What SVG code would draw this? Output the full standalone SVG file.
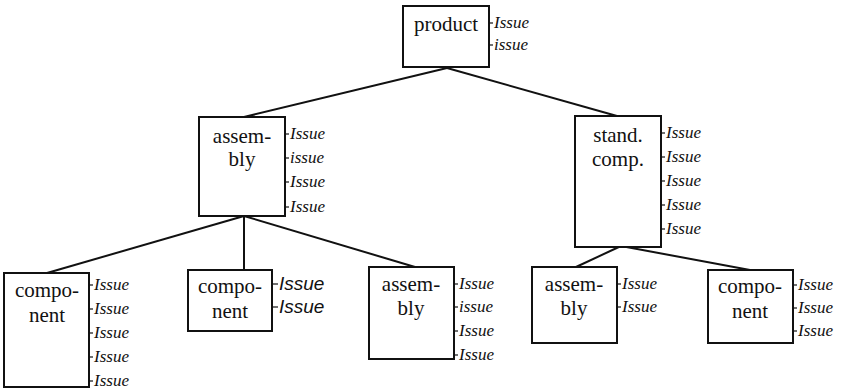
<svg xmlns="http://www.w3.org/2000/svg" width="841" height="392" viewBox="0 0 841 392">
  <style>
    .box { fill: #fff; stroke: #111; stroke-width: 2; }
    .lbl { font-family: "Liberation Serif", "Times New Roman", serif; font-size: 21px; fill: #111; text-anchor: middle; }
    .iss { font-family: "Liberation Serif", "Times New Roman", serif; font-style: italic; font-size: 17px; fill: #111; }
    .isss { font-family: "Liberation Sans", Arial, sans-serif; font-style: italic; font-size: 19px; fill: #111; }
    .tick { stroke: #111; stroke-width: 1.2; }
    .edge { stroke: #111; stroke-width: 2; fill: none; }
  </style>
  <rect width="841" height="392" fill="#fff"/>

  <g id="connectors">
    <line class="edge" x1="447" y1="68" x2="244" y2="117"/>
    <line class="edge" x1="447" y1="68" x2="617" y2="116"/>
    <line class="edge" x1="244" y1="216" x2="47" y2="273"/>
    <line class="edge" x1="244" y1="216" x2="244" y2="270"/>
    <line class="edge" x1="244" y1="216" x2="415" y2="267"/>
    <line class="edge" x1="621" y1="246" x2="576" y2="267"/>
    <line class="edge" x1="621" y1="246" x2="750" y2="270"/>
  </g>

  <g id="product">
    <rect class="box" x="403" y="6" width="86" height="61"/>
    <text class="lbl" x="446" y="31">product</text>
    <line class="tick" x1="489" y1="23" x2="493" y2="23"/>
    <text class="iss" x="494" y="28">Issue</text>
    <line class="tick" x1="489" y1="45" x2="493" y2="45"/>
    <text class="iss" x="494" y="50">issue</text>
  </g>

  <g id="assembly-1">
    <rect class="box" x="199" y="117" width="86" height="99"/>
    <text class="lbl" x="242" y="143">assem-</text>
    <text class="lbl" x="242" y="166">bly</text>
    <line class="tick" x1="285" y1="134" x2="289" y2="134"/>
    <text class="iss" x="290" y="139">Issue</text>
    <line class="tick" x1="285" y1="158" x2="289" y2="158"/>
    <text class="iss" x="290" y="163">issue</text>
    <line class="tick" x1="285" y1="182" x2="289" y2="182"/>
    <text class="iss" x="290" y="187">Issue</text>
    <line class="tick" x1="285" y1="207" x2="289" y2="207"/>
    <text class="iss" x="290" y="212">Issue</text>
  </g>

  <g id="standard-component">
    <rect class="box" x="575" y="116" width="86" height="131"/>
    <text class="lbl" x="618" y="142">stand.</text>
    <text class="lbl" x="618" y="166">comp.</text>
    <line class="tick" x1="661" y1="133" x2="665" y2="133"/>
    <text class="iss" x="666" y="138">Issue</text>
    <line class="tick" x1="661" y1="157" x2="665" y2="157"/>
    <text class="iss" x="666" y="162">Issue</text>
    <line class="tick" x1="661" y1="181" x2="665" y2="181"/>
    <text class="iss" x="666" y="186">Issue</text>
    <line class="tick" x1="661" y1="205" x2="665" y2="205"/>
    <text class="iss" x="666" y="210">Issue</text>
    <line class="tick" x1="661" y1="229" x2="665" y2="229"/>
    <text class="iss" x="666" y="234">Issue</text>
  </g>

  <g id="component-1">
    <rect class="box" x="4" y="273" width="85" height="114"/>
    <text class="lbl" x="47" y="297">compo-</text>
    <text class="lbl" x="47" y="322">nent</text>
    <line class="tick" x1="89" y1="285" x2="93" y2="285"/>
    <text class="iss" x="94" y="290">Issue</text>
    <line class="tick" x1="89" y1="309" x2="93" y2="309"/>
    <text class="iss" x="94" y="314">Issue</text>
    <line class="tick" x1="89" y1="333" x2="93" y2="333"/>
    <text class="iss" x="94" y="338">Issue</text>
    <line class="tick" x1="89" y1="357" x2="93" y2="357"/>
    <text class="iss" x="94" y="362">Issue</text>
    <line class="tick" x1="89" y1="381" x2="93" y2="381"/>
    <text class="iss" x="94" y="386">Issue</text>
  </g>

  <g id="component-2">
    <rect class="box" x="188" y="270" width="84" height="61"/>
    <text class="lbl" x="230" y="293">compo-</text>
    <text class="lbl" x="230" y="318">nent</text>
    <line class="tick" x1="272" y1="284" x2="278" y2="284"/>
    <text class="isss" x="279" y="290">Issue</text>
    <line class="tick" x1="272" y1="307" x2="278" y2="307"/>
    <text class="isss" x="279" y="313">Issue</text>
  </g>

  <g id="assembly-2">
    <rect class="box" x="369" y="267" width="85" height="92"/>
    <text class="lbl" x="411" y="291">assem-</text>
    <text class="lbl" x="411" y="315">bly</text>
    <line class="tick" x1="454" y1="284" x2="458" y2="284"/>
    <text class="iss" x="459" y="289">Issue</text>
    <line class="tick" x1="454" y1="307" x2="458" y2="307"/>
    <text class="iss" x="459" y="312">issue</text>
    <line class="tick" x1="454" y1="331" x2="458" y2="331"/>
    <text class="iss" x="459" y="336">Issue</text>
    <line class="tick" x1="454" y1="355" x2="458" y2="355"/>
    <text class="iss" x="459" y="360">Issue</text>
  </g>

  <g id="assembly-3">
    <rect class="box" x="532" y="267" width="85" height="76"/>
    <text class="lbl" x="574" y="291">assem-</text>
    <text class="lbl" x="574" y="315">bly</text>
    <line class="tick" x1="617" y1="284" x2="621" y2="284"/>
    <text class="iss" x="622" y="289">Issue</text>
    <line class="tick" x1="617" y1="307" x2="621" y2="307"/>
    <text class="iss" x="622" y="312">Issue</text>
  </g>

  <g id="component-3">
    <rect class="box" x="708" y="270" width="85" height="73"/>
    <text class="lbl" x="750" y="293">compo-</text>
    <text class="lbl" x="750" y="318">nent</text>
    <line class="tick" x1="793" y1="285" x2="797" y2="285"/>
    <text class="iss" x="798" y="290">Issue</text>
    <line class="tick" x1="793" y1="308" x2="797" y2="308"/>
    <text class="iss" x="798" y="313">Issue</text>
    <line class="tick" x1="793" y1="331" x2="797" y2="331"/>
    <text class="iss" x="798" y="336">Issue</text>
  </g>
</svg>
